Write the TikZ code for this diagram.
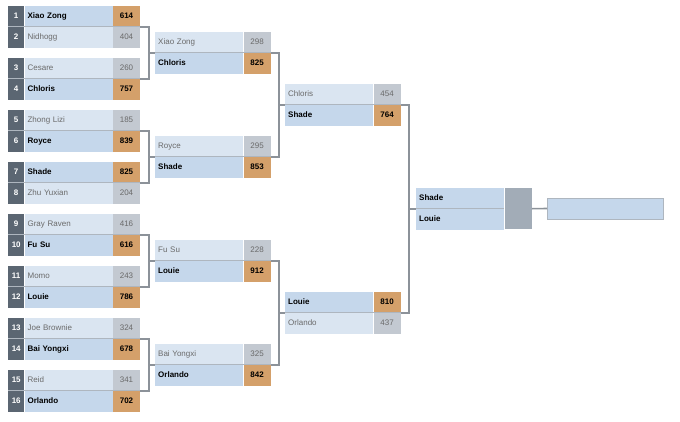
\documentclass[tikz,border=0pt]{standalone}
\usepackage{fontspec}
\setmainfont{Liberation Sans}
\definecolor{bkseed}{HTML}{5B6672}
\definecolor{bkwin}{HTML}{C5D7EB}
\definecolor{bklose}{HTML}{DAE5F1}
\definecolor{bkgold}{HTML}{D4A06A}
\definecolor{bkgrey}{HTML}{C3C9D1}
\definecolor{bkblock}{HTML}{A2ACB7}
\definecolor{bkline}{HTML}{8C9299}
\definecolor{bksep}{HTML}{AEB6BF}
\definecolor{bktext}{HTML}{6A6A6A}
\usetikzlibrary{positioning}

\begin{document}
\begin{tikzpicture}[x=1pt, y=-1pt,
  cell/.style={inner xsep=0pt, inner ysep=0pt, minimum height=20.5pt, text height=6pt, text depth=1.6pt, font=\fontsize{8}{9.6}\selectfont},
  seed/.style={cell, fill=bkseed, text=white, font=\fontsize{8}{9.6}\selectfont\bfseries, minimum width=16pt, anchor=north west},
  winner/.style={cell, fill=bkwin, text=black, font=\fontsize{8}{9.6}\selectfont\bfseries, text width=82pt, inner xsep=3pt, align=left},
  loser/.style={cell, fill=bklose, text=bktext, text width=82pt, inner xsep=3pt, align=left},
  wscore/.style={cell, fill=bkgold, text=black, font=\fontsize{8}{9.6}\selectfont\bfseries, minimum width=27pt},
  lscore/.style={cell, fill=bkgrey, text=bktext, minimum width=27pt},
  sepline/.style={bksep, line width=1pt},
  bracket/.style={bkline, line width=1.6pt}]
  \useasboundingbox (0,0) rectangle (680,421);

  % Round 1
  \node[seed] (r1k1) at (8,6) {1};
  \node[winner, right=0pt of r1k1] (r1n1) {Xiao Zong};
  \node[wscore, right=0pt of r1n1] (r1s1) {614};
  \node[seed, below=0pt of r1k1] (r1k2) {2};
  \node[loser, right=0pt of r1k2] (r1n2) {Nidhogg};
  \node[lscore, right=0pt of r1n2] (r1s2) {404};

  \node[seed] (r1k3) at (8,58) {3};
  \node[loser, right=0pt of r1k3] (r1n3) {Cesare};
  \node[lscore, right=0pt of r1n3] (r1s3) {260};
  \node[seed, below=0pt of r1k3] (r1k4) {4};
  \node[winner, right=0pt of r1k4] (r1n4) {Chloris};
  \node[wscore, right=0pt of r1n4] (r1s4) {757};

  \node[seed] (r1k5) at (8,110) {5};
  \node[loser, right=0pt of r1k5] (r1n5) {Zhong Lizi};
  \node[lscore, right=0pt of r1n5] (r1s5) {185};
  \node[seed, below=0pt of r1k5] (r1k6) {6};
  \node[winner, right=0pt of r1k6] (r1n6) {Royce};
  \node[wscore, right=0pt of r1n6] (r1s6) {839};

  \node[seed] (r1k7) at (8,162) {7};
  \node[winner, right=0pt of r1k7] (r1n7) {Shade};
  \node[wscore, right=0pt of r1n7] (r1s7) {825};
  \node[seed, below=0pt of r1k7] (r1k8) {8};
  \node[loser, right=0pt of r1k8] (r1n8) {Zhu Yuxian};
  \node[lscore, right=0pt of r1n8] (r1s8) {204};

  \node[seed] (r1k9) at (8,214) {9};
  \node[loser, right=0pt of r1k9] (r1n9) {Gray Raven};
  \node[lscore, right=0pt of r1n9] (r1s9) {416};
  \node[seed, below=0pt of r1k9] (r1k10) {10};
  \node[winner, right=0pt of r1k10] (r1n10) {Fu Su};
  \node[wscore, right=0pt of r1n10] (r1s10) {616};

  \node[seed] (r1k11) at (8,266) {11};
  \node[loser, right=0pt of r1k11] (r1n11) {Momo};
  \node[lscore, right=0pt of r1n11] (r1s11) {243};
  \node[seed, below=0pt of r1k11] (r1k12) {12};
  \node[winner, right=0pt of r1k12] (r1n12) {Louie};
  \node[wscore, right=0pt of r1n12] (r1s12) {786};

  \node[seed] (r1k13) at (8,318) {13};
  \node[loser, right=0pt of r1k13] (r1n13) {Joe Brownie};
  \node[lscore, right=0pt of r1n13] (r1s13) {324};
  \node[seed, below=0pt of r1k13] (r1k14) {14};
  \node[winner, right=0pt of r1k14] (r1n14) {Bai Yongxi};
  \node[wscore, right=0pt of r1n14] (r1s14) {678};

  \node[seed] (r1k15) at (8,370) {15};
  \node[loser, right=0pt of r1k15] (r1n15) {Reid};
  \node[lscore, right=0pt of r1n15] (r1s15) {341};
  \node[seed, below=0pt of r1k15] (r1k16) {16};
  \node[winner, right=0pt of r1k16] (r1n16) {Orlando};
  \node[wscore, right=0pt of r1n16] (r1s16) {702};

  % Round 2
  \node[loser, anchor=north west] (r2n1) at (155,32) {Xiao Zong};
  \node[lscore, right=0pt of r2n1] (r2s1) {298};
  \node[winner, below=0pt of r2n1] (r2n2) {Chloris};
  \node[wscore, right=0pt of r2n2] (r2s2) {825};

  \node[loser, anchor=north west] (r2n3) at (155,136) {Royce};
  \node[lscore, right=0pt of r2n3] (r2s3) {295};
  \node[winner, below=0pt of r2n3] (r2n4) {Shade};
  \node[wscore, right=0pt of r2n4] (r2s4) {853};

  \node[loser, anchor=north west] (r2n5) at (155,240) {Fu Su};
  \node[lscore, right=0pt of r2n5] (r2s5) {228};
  \node[winner, below=0pt of r2n5] (r2n6) {Louie};
  \node[wscore, right=0pt of r2n6] (r2s6) {912};

  \node[loser, anchor=north west] (r2n7) at (155,344) {Bai Yongxi};
  \node[lscore, right=0pt of r2n7] (r2s7) {325};
  \node[winner, below=0pt of r2n7] (r2n8) {Orlando};
  \node[wscore, right=0pt of r2n8] (r2s8) {842};

  % Round 3
  \node[loser, anchor=north west] (r3n1) at (285,84) {Chloris};
  \node[lscore, right=0pt of r3n1] (r3s1) {454};
  \node[winner, below=0pt of r3n1] (r3n2) {Shade};
  \node[wscore, right=0pt of r3n2] (r3s2) {764};

  \node[winner, anchor=north west] (r3n3) at (285,292) {Louie};
  \node[wscore, right=0pt of r3n3] (r3s3) {810};
  \node[loser, below=0pt of r3n3] (r3n4) {Orlando};
  \node[lscore, right=0pt of r3n4] (r3s4) {437};

  % Final and champion
  \node[winner, anchor=north west] (fn1) at (416,188) {Shade};
  \node[winner, below=0pt of fn1] (fn2) {Louie};
  \node[cell, fill=bkblock, minimum width=27pt, minimum height=41pt, anchor=north west] (fs) at (fn1.north east) {};
  \node[draw=bksep, line width=1pt, fill=bkwin, minimum width=116pt, minimum height=21pt, inner sep=0pt, anchor=west] (champ) at (547,208.5) {};

  % Row separators
  \foreach \a/\b in {r1k1/r1s1, r1k3/r1s3, r1k5/r1s5, r1k7/r1s7, r1k9/r1s9, r1k11/r1s11, r1k13/r1s13, r1k15/r1s15,
                     r2n1/r2s1, r2n3/r2s3, r2n5/r2s5, r2n7/r2s7, r3n1/r3s1, r3n3/r3s3, fn1/fn1}
    \draw[sepline] (\a.south west) -- (\b.south east);

  % Brackets
  \draw[bracket] (r1s1.south east) -- ++(9,0) |- (r2n1.south west);
  \draw[bracket] (r1s3.south east) -- ++(9,0) |- (r2n1.south west);
  \draw[bracket] (r1s5.south east) -- ++(9,0) |- (r2n3.south west);
  \draw[bracket] (r1s7.south east) -- ++(9,0) |- (r2n3.south west);
  \draw[bracket] (r1s9.south east) -- ++(9,0) |- (r2n5.south west);
  \draw[bracket] (r1s11.south east) -- ++(9,0) |- (r2n5.south west);
  \draw[bracket] (r1s13.south east) -- ++(9,0) |- (r2n7.south west);
  \draw[bracket] (r1s15.south east) -- ++(9,0) |- (r2n7.south west);
  \draw[bracket] (r2s1.south east) -- ++(8,0) |- (r3n1.south west);
  \draw[bracket] (r2s3.south east) -- ++(8,0) |- (r3n1.south west);
  \draw[bracket] (r2s5.south east) -- ++(8,0) |- (r3n3.south west);
  \draw[bracket] (r2s7.south east) -- ++(8,0) |- (r3n3.south west);
  \draw[bracket] (r3s1.south east) -- ++(8,0) |- (fn1.south west);
  \draw[bracket] (r3s3.south east) -- ++(8,0) |- (fn1.south west);
  \draw[bracket] (fs.east) -- (champ.west);
\end{tikzpicture}
\end{document}
